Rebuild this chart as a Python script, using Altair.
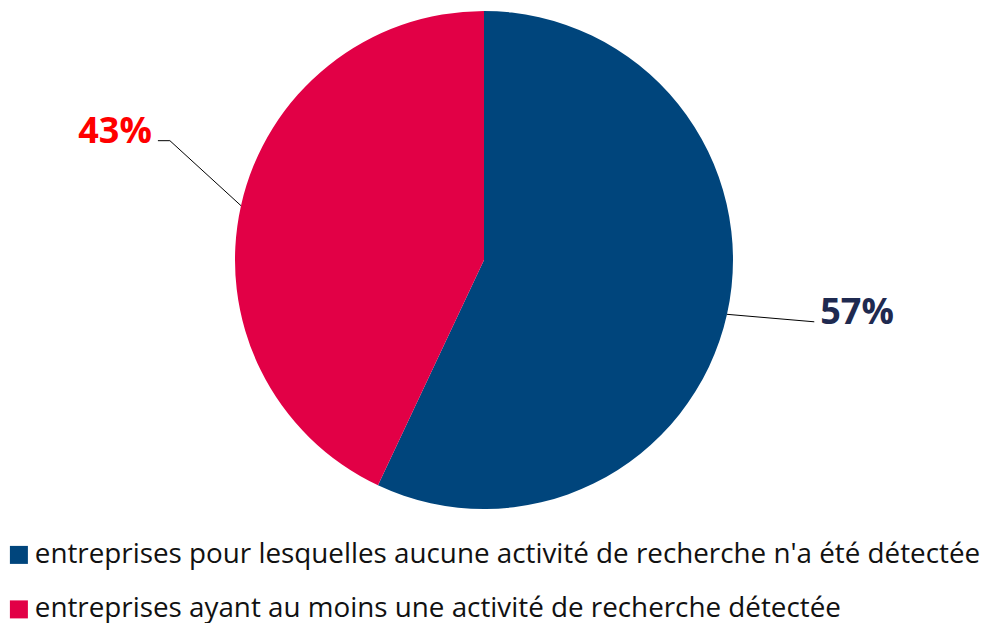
import math
import altair as alt
import pandas as pd

categories = [
    "entreprises pour lesquelles aucune activité de recherche n'a été détectée",
    "entreprises ayant au moins une activité de recherche détectée",
]
shares = [57, 43]
labels = ["57%", "43%"]

slice_colors = ["#00457C", "#E20046"]
label_colors = ["#1F2A50", "#FF0000"]

# layout (chart pixel coordinates = page - 8, padding 0, autosize none)
CX, CY, R = 476, 252, 249
LABEL_R = 336
LABEL_SHIFT = [-2.0, 8.2]      # degrees, manual label placement
TAIL = [0, -12]                # horizontal tail of leader line
TEXT_GAP = [6, -6]
ALIGN = ["left", "right"]

total = sum(shares)
rows = []
cum = 0.0
for i, (c, v) in enumerate(zip(categories, shares)):
    start = cum / total * 360
    cum += v
    end = cum / total * 360
    mid = math.radians((start + end) / 2)
    ex, ey = CX + R * math.sin(mid), CY - R * math.cos(mid)
    la = mid + math.radians(LABEL_SHIFT[i])
    lx, ly = CX + LABEL_R * math.sin(la), CY - LABEL_R * math.cos(la)
    rows.append(dict(cat=c, value=v, order=i, label=labels[i], lcolor=label_colors[i],
                     ex=ex, ey=ey, lx=lx, ly=ly, tx=lx + TAIL[i], ty=ly,
                     textx=lx + TAIL[i] + TEXT_GAP[i], align=ALIGN[i]))
df = pd.DataFrame(rows)

pie = alt.Chart(df).mark_arc(outerRadius=R).encode(
    theta=alt.Theta("value:Q", stack=True),
    order=alt.Order("order:Q"),
    color=alt.Color(
        "cat:N",
        scale=alt.Scale(domain=categories, range=slice_colors),
        sort=categories,
        legend=alt.Legend(
            title=None, orient="none", legendX=-3, legendY=533, direction="vertical",
            padding=0, offset=0,
            symbolType="square", symbolSize=324, symbolStrokeWidth=0,
            labelFont="Open Sans", labelFontSize=27.8, labelColor="#111111",
            labelLimit=0, labelOffset=2, rowPadding=25.5,
        ),
    ),
    x=alt.value(CX), y=alt.value(CY),
)

lead1 = alt.Chart(df).mark_rule(color="#000000", strokeWidth=1).encode(
    x=alt.X("ex:Q", scale=None, axis=None), y=alt.Y("ey:Q", scale=None, axis=None),
    x2="lx:Q", y2="ly:Q",
)
lead2 = alt.Chart(df).mark_rule(color="#000000", strokeWidth=1).encode(
    x=alt.X("lx:Q", scale=None, axis=None), y=alt.Y("ly:Q", scale=None, axis=None),
    x2="tx:Q", y2="ty:Q",
)

def text_layer(i):
    return alt.Chart(df[df.order == i]).mark_text(
        font="Open Sans", fontSize=36, fontWeight="bold", align=ALIGN[i],
        baseline="alphabetic", color=label_colors[i], dy=2,
    ).encode(
        x=alt.X("textx:Q", scale=None, axis=None),
        y=alt.Y("ty:Q", scale=None, axis=None),
        text="label:N",
    )

chart = alt.layer(pie, lead1, lead2, text_layer(0), text_layer(1)).properties(
    width=974, height=615, padding=0, background="white",
    autosize=alt.AutoSizeParams(type="none"),
).configure_view(stroke=None)

chart.save("out.html", embed_options={"renderer": "svg", "actions": False})
